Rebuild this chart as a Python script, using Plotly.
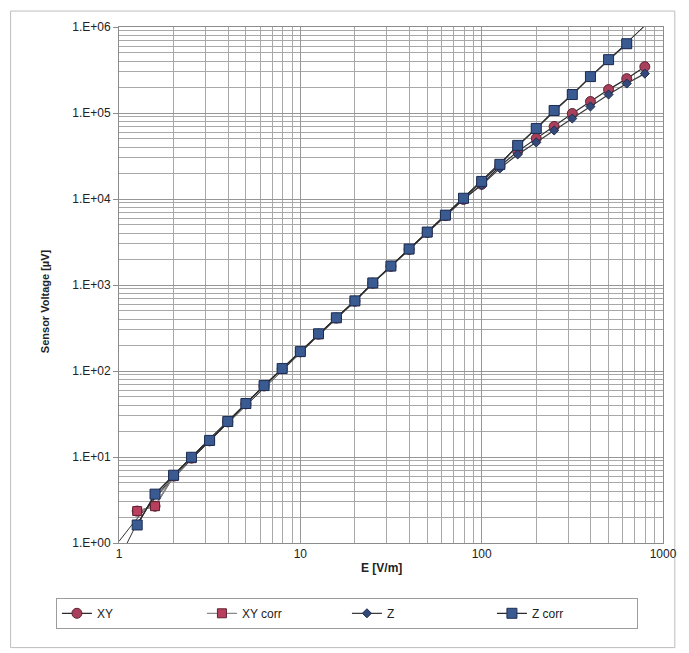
import numpy as np
import plotly.graph_objects as go

# ---------------- data ----------------
E_vals = [1.26, 1.58, 2.0, 2.51, 3.16, 3.98, 5.01, 6.31, 7.94, 10.0,
          12.6, 15.8, 20.0, 25.1, 31.6, 39.8, 50.1, 63.1, 79.4, 100.0,
          126, 158, 200, 251, 316, 398, 501, 631, 794]

xy_vals = [2.35, 2.68, 6.0, 9.7, 15.4, 25.6, 41.5, 67, 106, 167,
           268, 412, 648, 1050, 1650, 2600, 4080, 6400, 9900, 14800,
           24000, 35800, 50700, 69800, 98700, 136000, 187000, 251000, 346000]

xy_corr_vals = [2.35, 2.68, 6.0, 9.7, 15.4, 25.6, 41.5, 67, 106, 167,
                268, 412, 648, 1050, 1650, 2600, 4100, 6450, 10100, 15900,
                25000, 41500, 65500, 106000, 163000, 263000, 414000, 635000]

z_vals = [1.62, 3.70, 6.14, 9.93, 15.6, 25.9, 41.9, 67.7, 107, 168,
          271, 416, 654, 1057, 1664, 2620, 4110, 6450, 10000, 14500,
          22700, 33000, 45500, 62700, 86300, 119000, 164000, 220000, 287000]

z_corr_vals = [1.62, 3.70, 6.14, 9.93, 15.6, 25.9, 41.9, 67.7, 107, 168,
               271, 416, 654, 1057, 1664, 2620, 4125, 6490, 10200, 16000,
               25300, 42000, 66100, 107000, 164000, 265000, 417000, 639000]

series_names = ["XY", "XY corr", "Z", "Z corr"]
x_tick_vals = [1, 10, 100, 1000]
x_tick_text = ["1", "10", "100", "1000"]
y_tick_vals = [1, 10, 100, 1e3, 1e4, 1e5, 1e6]
y_tick_text = ["1.E+00", "1.E+01", "1.E+02", "1.E+03", "1.E+04", "1.E+05", "1.E+06"]

x_title = "E [V/m]"
y_title = "Sensor Voltage [µV]"

# ---------------- figure geometry (pixels) ----------------
# the page body has an 8px margin, so the figure is drawn 8px smaller
OFF = 8
W, H = 689 - OFF, 653 - OFF
PLOT_L, PLOT_R, PLOT_T, PLOT_B = 119, 671, 25, 543   # in reference pixels
L, T = PLOT_L - OFF, PLOT_T - OFF
R, B = W - (PLOT_R - OFF), H - (PLOT_B - OFF)
PW, PH = PLOT_R - PLOT_L, PLOT_B - PLOT_T


def px_x(p):
    return (p - PLOT_L) / PW


def px_y(p):
    return (PLOT_B - p) / PH


FONT = "Liberation Sans, Arial, sans-serif"
RED = "#A8405C"
RED_DARK = "#5E2233"
BLUE = "#3A5A92"
BLUE_DARK = "#1E2E52"

fig = go.Figure()


def trend(xs, ys):
    xs = np.asarray(xs, float)
    ys = np.asarray(ys, float)
    c = np.polyfit(xs, ys, 2, w=1.0 / ys)
    grid = np.logspace(0, 3, 400)
    v = np.polyval(c, grid)
    v = np.where(v > 0, v, np.nan)
    return grid, v


# trendlines for the corrected series
for ys in (xy_corr_vals, z_corr_vals):
    gx, gy = trend(E_vals[:len(ys)], ys)
    fig.add_trace(go.Scatter(x=gx, y=gy, mode="lines", showlegend=False,
                             hoverinfo="skip",
                             line=dict(color="#333333", width=1)))

fig.add_trace(go.Scatter(
    x=E_vals[:len(xy_vals)], y=xy_vals, name=series_names[0],
    mode="lines+markers",
    line=dict(color="#2a2a2a", width=1.2),
    marker=dict(symbol="circle", size=10, color=RED,
                line=dict(color=RED_DARK, width=1))))

fig.add_trace(go.Scatter(
    x=E_vals[:len(xy_corr_vals)], y=xy_corr_vals, name=series_names[1],
    mode="lines+markers",
    line=dict(color="#8a8a8a", width=1.2),
    marker=dict(symbol="square", size=9, color="#B8405E",
                line=dict(color=RED_DARK, width=1))))

fig.add_trace(go.Scatter(
    x=E_vals[:len(z_vals)], y=z_vals, name=series_names[2],
    mode="lines+markers",
    line=dict(color="#3a3a3a", width=1.2),
    marker=dict(symbol="diamond", size=7, color="#34497A",
                line=dict(color=BLUE_DARK, width=1))))

fig.add_trace(go.Scatter(
    x=E_vals[:len(z_corr_vals)], y=z_corr_vals, name=series_names[3],
    mode="lines+markers",
    line=dict(color="#2a2a2a", width=1.2),
    marker=dict(symbol="square", size=10, color=BLUE,
                line=dict(color=BLUE_DARK, width=1))))

GRID = "#969696"
MINOR = "#a8a8a8"

fig.update_xaxes(
    type="log", range=[0, 3],
    tickmode="array", tickvals=x_tick_vals, ticktext=x_tick_text,
    showgrid=True, gridcolor=GRID, gridwidth=1,
    minor=dict(dtick="D1", showgrid=True, gridcolor=MINOR, gridwidth=1, ticks=""),
    showline=True, linecolor="#8c8c8c", linewidth=1, mirror=True,
    ticks="", tickfont=dict(family=FONT, size=12, color="#222222"),
    zeroline=False)

fig.update_yaxes(
    type="log", range=[0, 6],
    tickmode="array", tickvals=y_tick_vals, ticktext=y_tick_text,
    showgrid=True, gridcolor=GRID, gridwidth=1,
    minor=dict(dtick="D1", showgrid=True, gridcolor=MINOR, gridwidth=1, ticks=""),
    showline=True, linecolor="#8c8c8c", linewidth=1, mirror=True,
    ticks="outside", ticklen=5, tickcolor="#8c8c8c",
    tickfont=dict(family=FONT, size=12, color="#222222"),
    zeroline=False)

# outer chart frame
fig.add_shape(type="rect", xref="paper", yref="paper",
              x0=px_x(9), x1=px_x(683), y0=px_y(648), y1=px_y(9),
              line=dict(color="#bdbdbd", width=1), layer="below")

fig.add_annotation(text=f"<b>{x_title}</b>", xref="paper", yref="paper",
                   x=px_x(385), y=px_y(577), showarrow=False,
                   font=dict(family=FONT, size=12, color="#222222"))
fig.add_annotation(text=f"<b>{y_title}</b>", xref="paper", yref="paper",
                   x=px_x(36), y=px_y(300), showarrow=False, textangle=-90,
                   font=dict(family=FONT, size=11, color="#222222"))

fig.update_layout(
    width=W, height=H,
    margin=dict(l=L, r=R, t=T, b=B),
    paper_bgcolor="white", plot_bgcolor="white",
    font=dict(family=FONT, size=11, color="#222222"),
    showlegend=True,
    legend=dict(orientation="h", xanchor="left", yanchor="top",
                x=px_x(55), y=px_y(598),
                bordercolor="#9c9c9c", borderwidth=1, bgcolor="white",
                entrywidth=100, entrywidthmode="pixels",
                font=dict(family=FONT, size=12, color="#222222")),
)

fig.write_html("out.html")
